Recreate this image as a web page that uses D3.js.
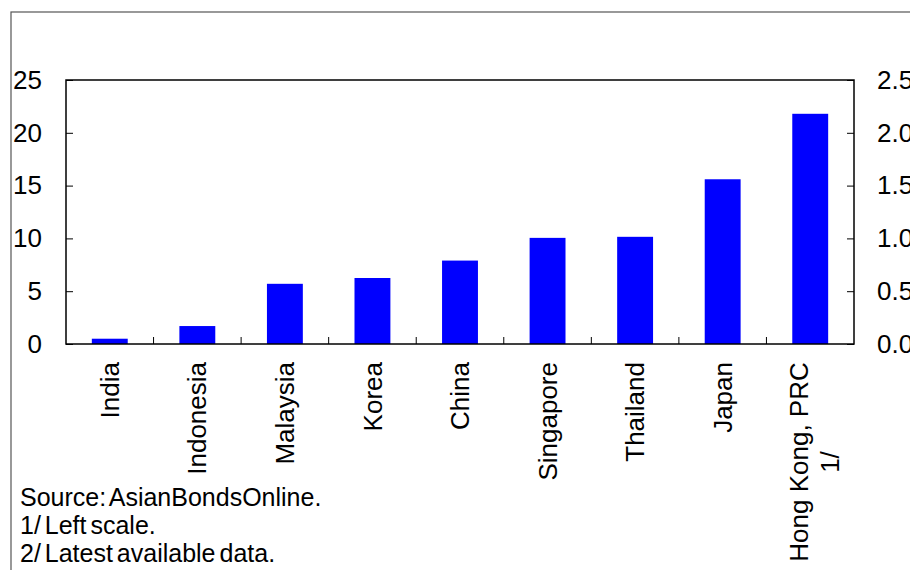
<!DOCTYPE html>
<html>
<head>
<meta charset="utf-8">
<script src="https://cdn.jsdelivr.net/npm/d3@7"></script>
<style>
  body { margin: 0; background: #fff; }
  svg text { font-family: "Liberation Sans", Arial, sans-serif; fill: #000; }
</style>
</head>
<body>
<div id="chart"></div>
<script>
// Values (left scale)
const countries = ["India", "Indonesia", "Malaysia", "Korea", "China", "Singapore", "Thailand", "Japan", "Hong Kong, PRC|1/"];
const values = [0.5, 1.7, 5.7, 6.25, 7.9, 10.05, 10.15, 15.6, 21.8];
const leftTicks = [0, 5, 10, 15, 20, 25];
const rightTicks = [0, 0.5, 1.0, 1.5, 2.0, 2.5];
const notes = ["Source: AsianBondsOnline.", "1/ Left scale.", "2/ Latest available data."];

const W = 910, H = 570;
const margin = {top: 80, right: 56, bottom: 226, left: 66};
const width = W - margin.left - margin.right;
const height = H - margin.top - margin.bottom;

const svg = d3.select("#chart").append("svg")
    .attr("width", W)
    .attr("height", H);

// outer frame (runs off the right and bottom edges)
svg.append("rect")
    .attr("x", 11).attr("y", 12)
    .attr("width", W + 20).attr("height", H + 20)
    .attr("fill", "none")
    .attr("stroke", "#555")
    .attr("stroke-width", 1.2);

const g = svg.append("g")
    .attr("transform", `translate(${margin.left},${margin.top})`);

const x = d3.scaleBand()
    .domain(countries)
    .range([0, width])
    .paddingInner(0.59)
    .paddingOuter(0.295);

const xb = d3.scaleBand().domain(countries).range([0, width]);

const y = d3.scaleLinear().domain([0, 25]).range([height, 0]);
const y2 = d3.scaleLinear().domain([0, 2.5]).range([height, 0]);

g.selectAll(".bar")
    .data(values)
    .enter().append("rect")
    .attr("class", "bar")
    .attr("x", (d, i) => x(countries[i]))
    .attr("y", d => y(d))
    .attr("width", x.bandwidth())
    .attr("height", d => height - y(d))
    .attr("fill", "#0000ff");

// plot frame
g.append("rect")
    .attr("width", width).attr("height", height)
    .attr("fill", "none")
    .attr("stroke", "#000")
    .attr("stroke-width", 1.5);

const left = g.append("g")
    .call(d3.axisLeft(y).tickValues(leftTicks).tickSizeInner(-7).tickSizeOuter(0).tickPadding(24).tickFormat(d3.format("d")));
const right = g.append("g")
    .attr("transform", `translate(${width},0)`)
    .call(d3.axisRight(y2).tickValues(rightTicks).tickSizeInner(-7).tickSizeOuter(0).tickPadding(23).tickFormat(d3.format(".1f")));

[left, right].forEach(a => {
    a.select(".domain").remove();
    a.selectAll(".tick line").attr("stroke", "#000").attr("stroke-width", 1);
    a.selectAll(".tick text").attr("font-size", 26).attr("font-family", "Liberation Sans, Arial, sans-serif");
});

// category boundary ticks
g.selectAll(".xtick")
    .data(countries.slice(1))
    .enter().append("line")
    .attr("x1", d => xb(d)).attr("x2", d => xb(d))
    .attr("y1", height).attr("y2", height - 7)
    .attr("stroke", "#000");

// category labels, rotated
const labels = g.selectAll(".xlabel")
    .data(countries)
    .enter().append("text")
    .attr("class", "xlabel")
    .attr("font-size", 26)
    .attr("text-anchor", "end")
    .attr("transform", d => `translate(${xb(d) + xb.bandwidth() / 2},${height + 18}) rotate(-90)`);

labels.each(function(d) {
    const lines = d.split("|");
    const t = d3.select(this);
    if (lines.length === 1) {
        t.append("tspan").attr("x", 0).attr("dy", "0.35em").text(lines[0]);
    } else {
        t.attr("text-anchor", "middle");
        t.append("tspan").attr("x", -100).attr("dy", "-0.1em").text(lines[0]);
        t.append("tspan").attr("x", -100).attr("dy", "1.2em").text(lines[1]);
    }
});

svg.selectAll(".note")
    .data(notes)
    .enter().append("text")
    .attr("class", "note")
    .attr("x", 20)
    .attr("y", (d, i) => 506 + i * 28)
    .attr("font-size", 25)
    .attr("word-spacing", -3)
    .text(d => d);
</script>
</body>
</html>
